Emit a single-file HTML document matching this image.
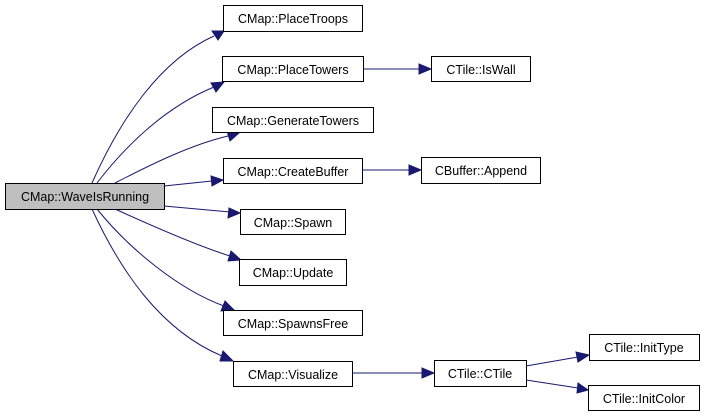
<!DOCTYPE html>
<html><head><meta charset="utf-8"><style>
html,body{margin:0;padding:0;background:#fff;}
svg{display:block}
text{font-family:"Liberation Sans",Arial,sans-serif;font-size:12.5px;fill:#000;text-anchor:middle}
.b{fill:#fff;stroke:#000;stroke-width:1}
.e{fill:none;stroke:#191970;stroke-width:1}
.a{fill:#191970;stroke:#191970}
</style></head><body>
<svg width="704" height="417" viewBox="0 0 704 417">
<path class="e" d="M92,183 C120,120 160,60 214,36"/><polygon class="a" points="224,31 212,31 218,40"/>
<path class="e" d="M97,183 C130,140 170,105 214,87"/><polygon class="a" points="224,82 211,83 216,92"/>
<path class="e" d="M115,183 C150,165 190,145 228,136"/><polygon class="a" points="240,132 227,131 230,141"/>
<path class="e" d="M164,186 L212,181"/><polygon class="a" points="223,180 211,176 212,186"/>
<path class="e" d="M164,206 L230,212"/><polygon class="a" points="240,213 229,208 228,218"/>
<path class="e" d="M115,209 C150,225 195,245 230,256"/><polygon class="a" points="241,260 231,251 228,261"/>
<path class="e" d="M97,209 C130,250 180,290 224,306"/><polygon class="a" points="234,310 225,301 221,311"/>
<path class="e" d="M92,209 C120,270 160,330 222,356"/><polygon class="a" points="233,361 223,351 220,361"/>
<path class="e" d="M363,69 L420,69"/><polygon class="a" points="431,69 419,64 419,74"/>
<path class="e" d="M362,170 L410,170"/><polygon class="a" points="421,170 409,165 409,175"/>
<path class="e" d="M352,373 L423,373"/><polygon class="a" points="434,373 422,368 422,378"/>
<path class="e" d="M526,366 L578,357"/><polygon class="a" points="589,355 576,352 578,362"/>
<path class="e" d="M526,380 L578,388"/><polygon class="a" points="588,390 578,383 577,393"/>
<rect x="5.5" y="183.5" width="159" height="26" style="fill:#bfbfbf;stroke:#000"/><text x="85" y="201">CMap::WaveIsRunning</text>
<rect class="b" x="223.5" y="5.5" width="139" height="26"/><text x="293" y="23">CMap::PlaceTroops</text>
<rect class="b" x="222.5" y="56.5" width="141" height="25"/><text x="293" y="74">CMap::PlaceTowers</text>
<rect class="b" x="212.5" y="107.5" width="161" height="25"/><text x="293" y="125">CMap::GenerateTowers</text>
<rect class="b" x="223.5" y="158.5" width="139" height="25"/><text x="293" y="176">CMap::CreateBuffer</text>
<rect class="b" x="240.5" y="209.5" width="105" height="25"/><text x="293" y="227">CMap::Spawn</text>
<rect class="b" x="239.5" y="259.5" width="107" height="26"/><text x="293" y="277">CMap::Update</text>
<rect class="b" x="223.5" y="310.5" width="139" height="25"/><text x="293" y="328">CMap::SpawnsFree</text>
<rect class="b" x="233.5" y="361.5" width="119" height="25"/><text x="293" y="379">CMap::Visualize</text>
<rect class="b" x="431.5" y="56.5" width="99" height="25"/><text x="481" y="74">CTile::IsWall</text>
<rect class="b" x="421.5" y="157.5" width="119" height="26"/><text x="481" y="175">CBuffer::Append</text>
<rect class="b" x="434.5" y="360.5" width="92" height="26"/><text x="480" y="378">CTile::CTile</text>
<rect class="b" x="589.5" y="334.5" width="110" height="26"/><text x="644" y="352">CTile::InitType</text>
<rect class="b" x="588.5" y="385.5" width="111" height="25"/><text x="644" y="403">CTile::InitColor</text>
</svg>
</body></html>
